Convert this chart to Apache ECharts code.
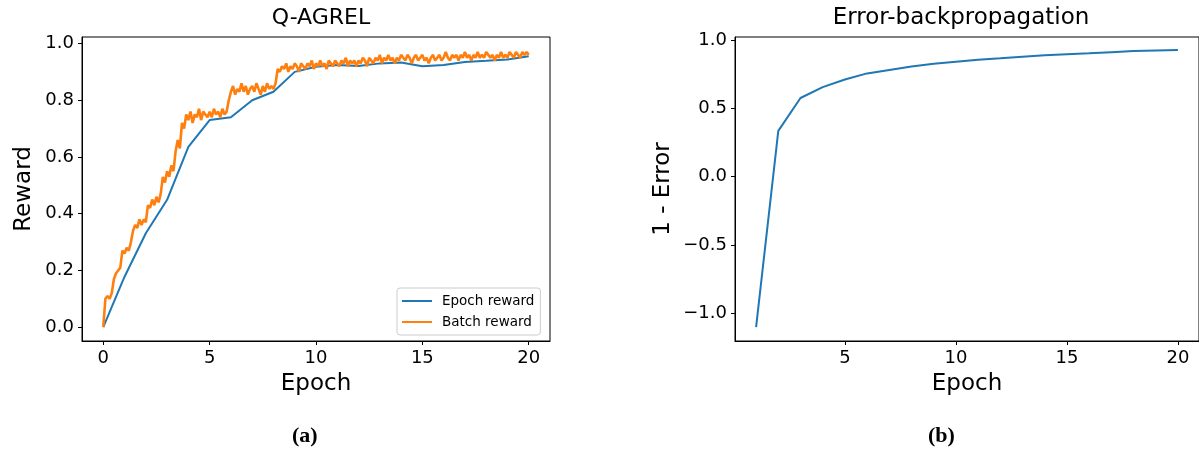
<!DOCTYPE html>
<html>
<head>
<meta charset="utf-8">
<script src="https://cdn.jsdelivr.net/npm/echarts@6/dist/echarts.min.js"></script>
<style>
html,body{margin:0;padding:0;background:#fff;}
#chart{width:1199px;height:449px;}
</style>
</head>
<body>
<div id="chart"></div>
<script>
// ---- Data ----
const epochX = [0,1,2,3,4,5,6,7,8,9,10,11,12,13,14,15,16,17,18,19,20];
const epochReward = [0.0,0.178,0.331,0.449,0.636,0.73,0.74,0.80,0.83,0.90,0.918,0.924,0.921,0.93,0.933,0.92,0.924,0.935,0.939,0.944,0.955];

const batchStep = 0.1;
const batchReward = [
0.00,0.10,0.11,0.10,0.12,0.17,0.19,0.20,0.21,0.27,
0.26,0.28,0.27,0.30,0.34,0.36,0.35,0.38,0.36,0.38,
0.37,0.43,0.42,0.45,0.43,0.46,0.44,0.47,0.53,0.51,
0.55,0.53,0.57,0.55,0.62,0.66,0.63,0.72,0.70,0.75,
0.73,0.76,0.72,0.75,0.74,0.77,0.73,0.76,0.75,0.74,
0.76,0.74,0.77,0.75,0.76,0.74,0.77,0.75,0.76,0.80,
0.83,0.85,0.82,0.84,0.83,0.86,0.83,0.85,0.82,0.84,
0.85,0.83,0.86,0.84,0.82,0.85,0.83,0.86,0.84,0.85,
0.84,0.86,0.91,0.90,0.92,0.91,0.93,0.90,0.92,0.91,
0.93,0.92,0.90,0.93,0.92,0.91,0.93,0.92,0.94,0.91,
0.93,0.92,0.94,0.92,0.93,0.91,0.94,0.93,0.92,0.94,
0.93,0.92,0.94,0.93,0.95,0.92,0.94,0.93,0.94,0.92,
0.94,0.93,0.95,0.94,0.92,0.95,0.94,0.93,0.95,0.94,
0.96,0.93,0.95,0.94,0.96,0.94,0.95,0.93,0.95,0.94,
0.96,0.95,0.94,0.96,0.95,0.93,0.95,0.96,0.94,0.95,
0.96,0.94,0.95,0.93,0.95,0.96,0.94,0.95,0.96,0.94,
0.95,0.97,0.95,0.94,0.96,0.95,0.96,0.94,0.96,0.95,
0.97,0.95,0.96,0.94,0.96,0.95,0.97,0.95,0.96,0.95,
0.97,0.96,0.95,0.96,0.94,0.96,0.95,0.97,0.95,0.96,
0.95,0.97,0.96,0.95,0.97,0.96,0.95,0.97,0.96,0.97,
0.96
];

const bpEpochs = [1,2,3,4,5,6,7,8,9,10,11,12,13,14,15,16,17,18,19,20];
const bpValues = [-1.10,0.335,0.575,0.655,0.71,0.755,0.78,0.805,0.825,0.84,0.855,0.865,0.876,0.887,0.895,0.902,0.91,0.918,0.922,0.926];

const leftXTicks = [0,5,10,15,20];
const leftYTicks = [0,0.2,0.4,0.6,0.8,1.0];
const rightXTicks = [5,10,15,20];
const rightYTicks = [-1.0,-0.5,0,0.5,1.0];

// ---- Build ----
const FONT = 'DejaVu Sans';
const fmt1 = v => v.toFixed(1).replace('-', '\u2212');
const epochData = epochX.map((x, i) => [x, epochReward[i]]);
const batchData = batchReward.map((v, i) => [+(i * batchStep).toFixed(2), v]);
const bpData = bpEpochs.map((x, i) => [x, bpValues[i]]);

const axisLineStyle = { show: true, onZero: false, lineStyle: { color: '#000', width: 1 } };

function xAxis(gridIndex, min, max, ticks) {
  return {
    type: 'value', gridIndex, min, max,
    name: 'Epoch', nameLocation: 'middle', nameGap: 32,
    nameTextStyle: { fontFamily: FONT, fontSize: 23, color: '#000' },
    axisLine: axisLineStyle,
    splitLine: { show: false },
    axisTick: { show: true, length: 4, lineStyle: { color: '#000', width: 1 }, customValues: ticks },
    axisLabel: { fontFamily: FONT, fontSize: 18, color: '#000', margin: 8, customValues: ticks, formatter: v => String(v) }
  };
}
function yAxis(gridIndex, min, max, ticks, name, gap) {
  return {
    type: 'value', gridIndex, min, max,
    name, nameLocation: 'middle', nameGap: gap, nameRotate: 90,
    nameTextStyle: { fontFamily: FONT, fontSize: 23, color: '#000' },
    axisLine: axisLineStyle,
    splitLine: { show: false },
    axisTick: { show: true, length: 4, lineStyle: { color: '#000', width: 1 }, customValues: ticks },
    axisLabel: { fontFamily: FONT, fontSize: 18, color: '#000', margin: 8, customValues: ticks, formatter: fmt1 }
  };
}

const chart = echarts.init(document.getElementById('chart'), null, { renderer: 'canvas' });
chart.setOption({
  animation: false,
  backgroundColor: '#fff',
  title: [
    { text: 'Q-AGREL', left: 316, top: 2, textAlign: 'center',
      textStyle: { fontFamily: FONT, fontSize: 22, fontWeight: 'normal', color: '#000' } },
    { text: 'Error-backpropagation', left: 956, top: 2, textAlign: 'center',
      textStyle: { fontFamily: FONT, fontSize: 23, fontWeight: 'normal', color: '#000' } }
  ],
  grid: [
    { left: 82, top: 37, width: 468, height: 304, show: true, borderColor: '#000', borderWidth: 1, backgroundColor: 'transparent' },
    { left: 735, top: 37, width: 468, height: 304, show: true, borderColor: '#000', borderWidth: 1, backgroundColor: 'transparent' }
  ],
  xAxis: [
    xAxis(0, -1, 21, leftXTicks),
    xAxis(1, 0.05, 20.95, rightXTicks)
  ],
  yAxis: [
    yAxis(0, -0.0487, 1.023, leftYTicks, 'Reward', 46),
    yAxis(1, -1.201, 1.021, rightYTicks, '1 - Error', 60)
  ],
  legend: {
    orient: 'vertical', left: 397, top: 288,
    data: [{ name: 'Epoch reward', icon: 'rect' }, { name: 'Batch reward', icon: 'rect' }],
    itemWidth: 30, itemHeight: 2, itemGap: 7,
    padding: [6, 6, 6, 5],
    backgroundColor: '#fff', borderColor: '#cccccc', borderWidth: 1, borderRadius: 3,
    textStyle: { fontFamily: FONT, fontSize: 13.5, color: '#000', lineHeight: 14, padding: [0, 0, 0, 5] }
  },
  series: [
    { name: 'Epoch reward', type: 'line', xAxisIndex: 0, yAxisIndex: 0, data: epochData,
      showSymbol: false, symbol: 'none', color: '#1f77b4', lineStyle: { width: 2, color: '#1f77b4' } },
    { name: 'Batch reward', type: 'line', xAxisIndex: 0, yAxisIndex: 0, data: batchData,
      showSymbol: false, symbol: 'none', color: '#ff7f0e', lineStyle: { width: 2.6, color: '#ff7f0e' } },
    { name: 'bp', type: 'line', xAxisIndex: 1, yAxisIndex: 1, data: bpData,
      showSymbol: false, symbol: 'none', color: '#1f77b4', lineStyle: { width: 2, color: '#1f77b4' } }
  ],
  graphic: [
    { type: 'text', left: 292, top: 425, style: { text: '(a)', font: 'bold 22px "Liberation Serif"', fill: '#000' } },
    { type: 'text', left: 928, top: 425, style: { text: '(b)', font: 'bold 22px "Liberation Serif"', fill: '#000' } }
  ]
});
</script>
</body>
</html>
